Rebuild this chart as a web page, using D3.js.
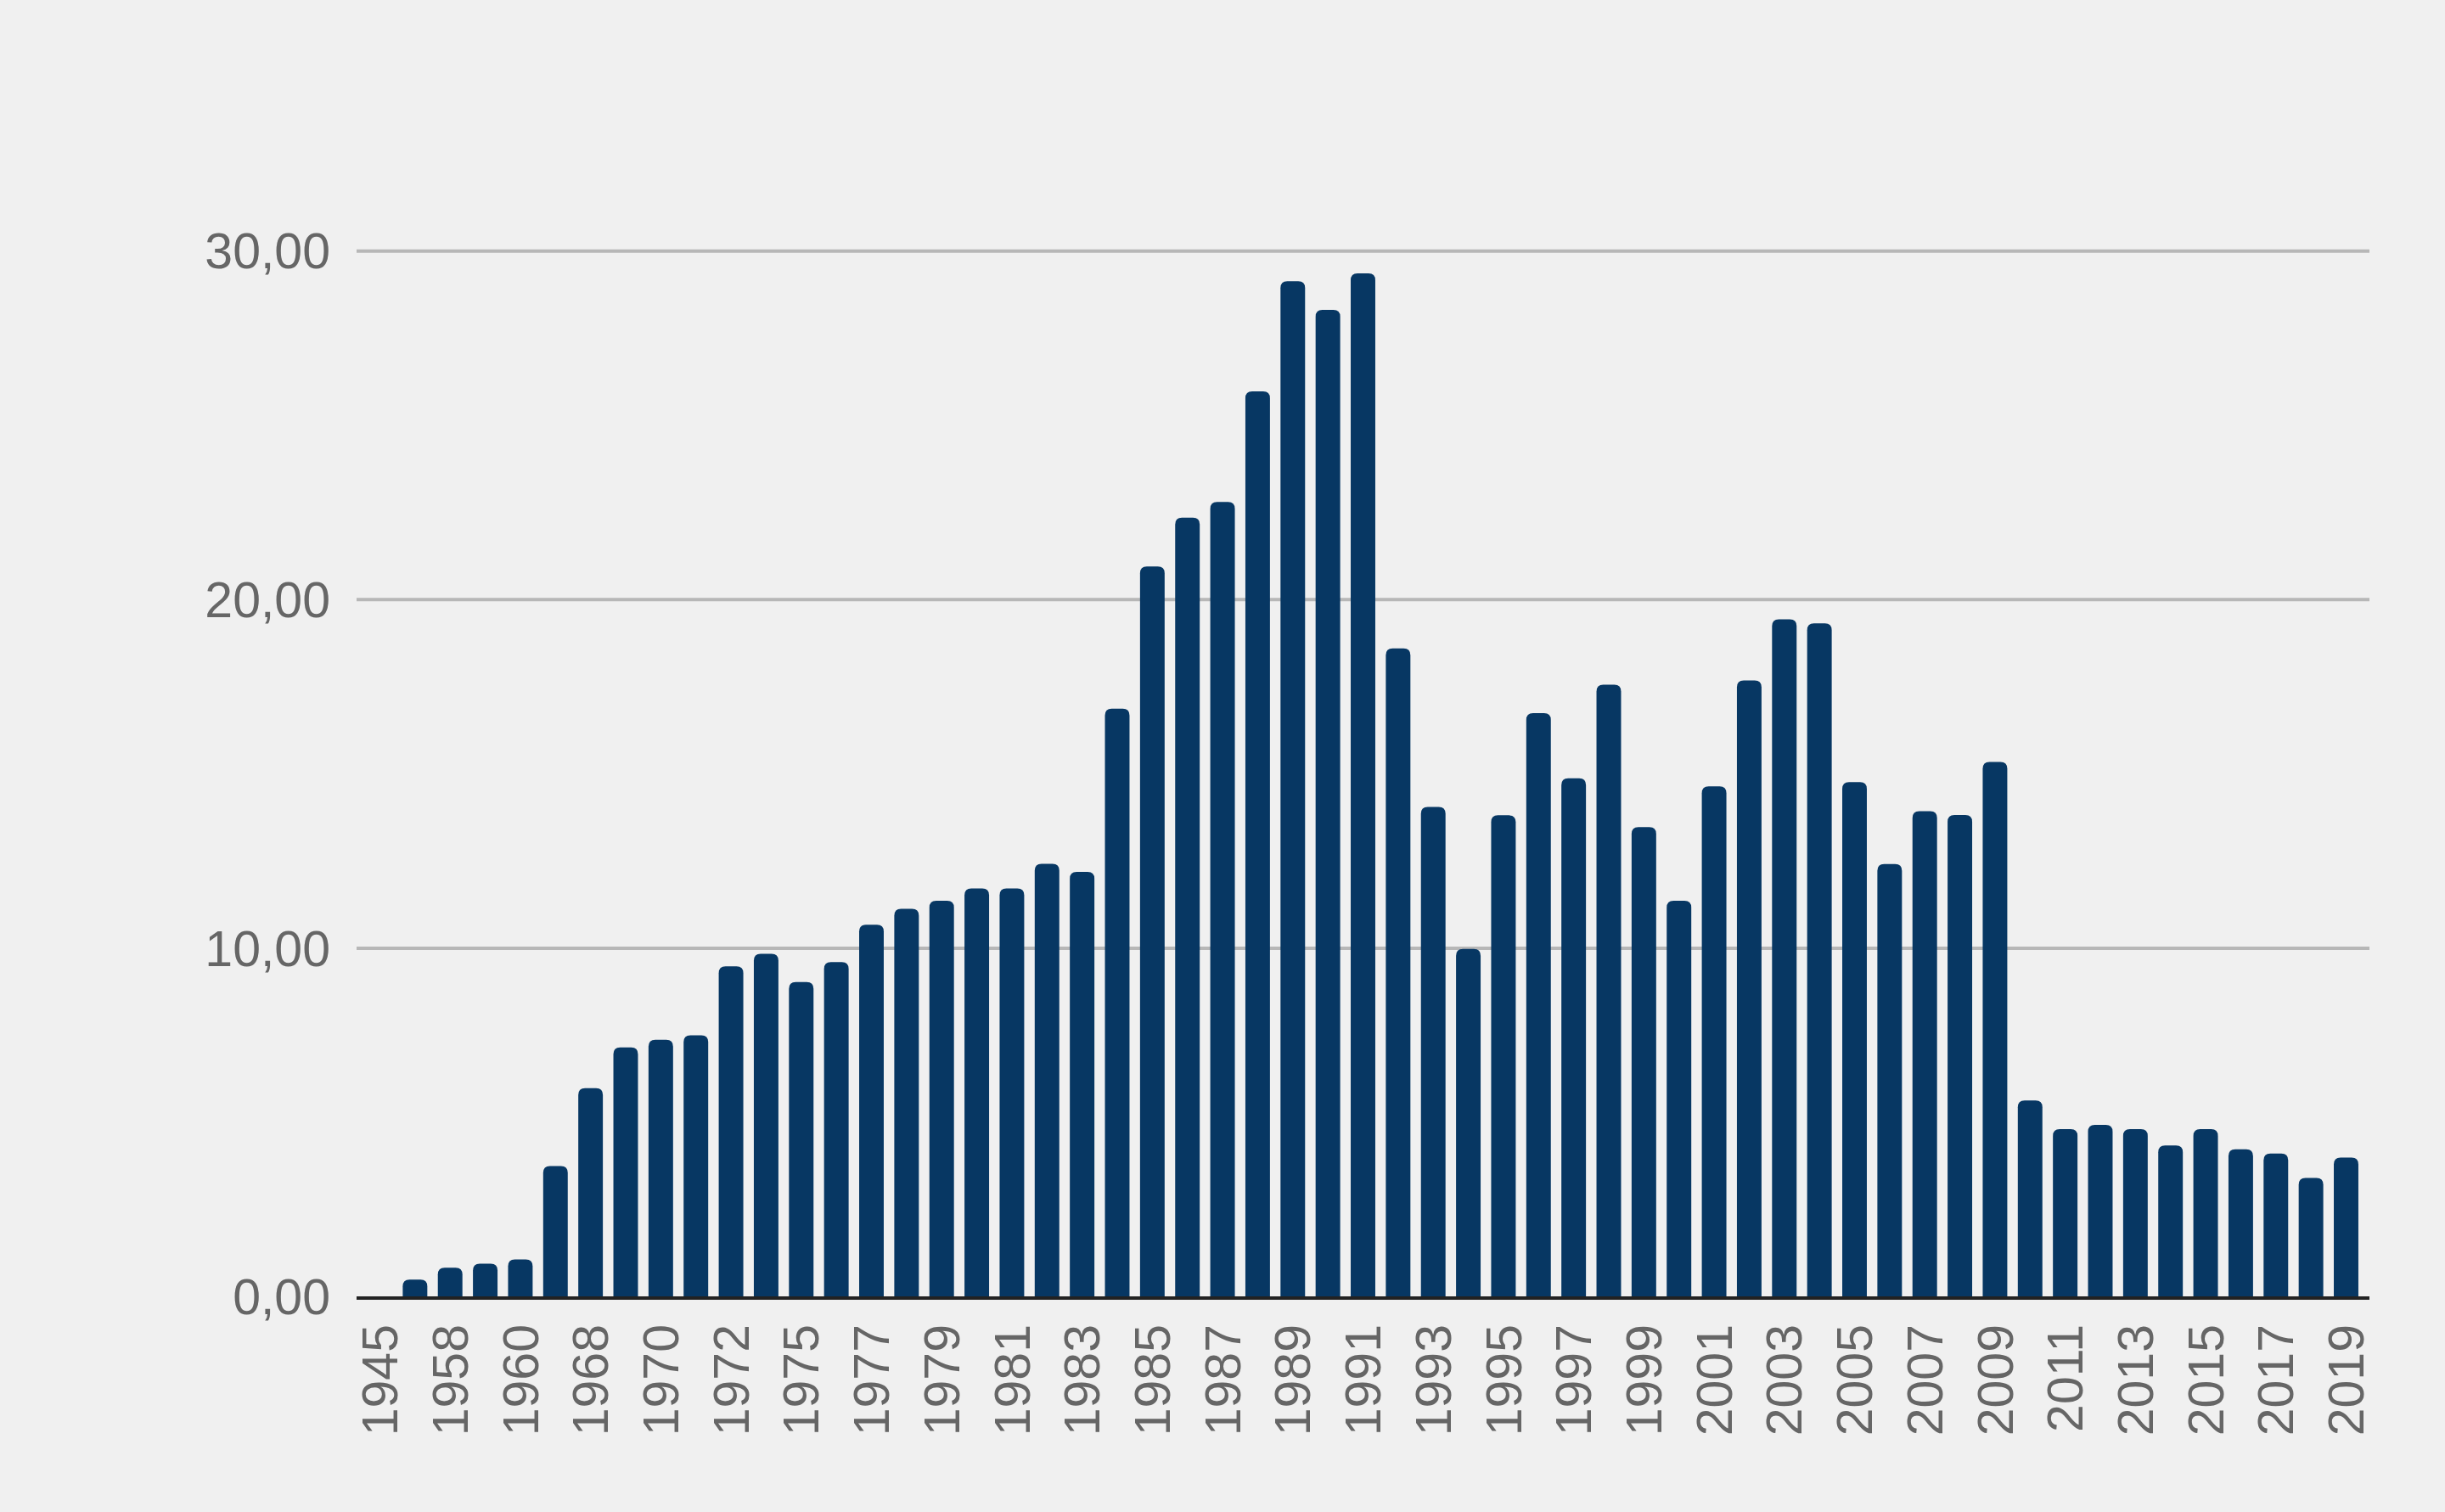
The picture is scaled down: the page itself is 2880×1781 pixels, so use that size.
<!DOCTYPE html>
<html>
<head>
<meta charset="utf-8">
<script src="https://cdn.jsdelivr.net/npm/d3@7"></script>
<style>
  html, body { margin: 0; padding: 0; background: #f0f0f0; }
  svg { display: block; }
</style>
</head>
<body>
<svg id="chart" width="2880" height="1781"></svg>
<script>
// ---- Data ----
const years = [
  "1945","1955","1958","1959","1960","1965","1968","1969","1970","1971","1972","1973",
  "1975","1976","1977","1978","1979","1980","1981","1982","1983","1984","1985","1986",
  "1987","1988","1989","1990","1991","1992","1993","1994","1995","1996","1997","1998",
  "1999","2000","2001","2002","2003","2004","2005","2006","2007","2008","2009","2010",
  "2011","2012","2013","2014","2015","2016","2017","2018","2019"
];
const values = [
  0, 0.48, 0.82, 0.94, 1.06, 3.74, 5.97, 7.14, 7.36, 7.49, 9.47, 9.83,
  9.02, 9.59, 10.66, 11.12, 11.35, 11.70, 11.70, 12.41, 12.18, 16.86, 20.94, 22.34,
  22.79, 25.96, 29.12, 28.30, 29.35, 18.59, 14.04, 9.97, 13.80, 16.73, 14.86, 17.55,
  13.46, 11.35, 14.63, 17.67, 19.42, 19.31, 14.75, 12.40, 13.92, 13.81, 15.33, 5.62,
  4.80, 4.92, 4.80, 4.33, 4.80, 4.22, 4.10, 3.40, 3.98
];
const yTicks = [0, 10, 20, 30];

// ---- Layout ----
const svg = d3.select("#chart");
const plotLeft = 420, plotRight = 2791, zeroY = 1527, topY = 295.2;

const x = d3.scaleBand()
  .domain(years)
  .range([plotLeft, plotRight])
  .paddingInner(0.3)
  .paddingOuter(0.315);

const y = d3.scaleLinear()
  .domain([0, 30])
  .range([zeroY, topY]);

const fmt = v => d3.format(".2f")(v).replace(".", ",");
const fontFamily = "'Liberation Sans', Arial, sans-serif";

// Gridlines + y labels via axis
const yAxis = d3.axisLeft(y)
  .tickValues(yTicks)
  .tickSize(-(plotRight - plotLeft))
  .tickPadding(31)
  .tickFormat(fmt);

const gy = svg.append("g")
  .attr("transform", `translate(${plotLeft},0)`)
  .call(yAxis);
gy.select(".domain").remove();
gy.selectAll(".tick line")
  .attr("stroke", "#b7b7b7")
  .attr("stroke-width", 4)
  .attr("display", d => d === 0 ? "none" : null);
gy.selectAll(".tick text")
  .attr("fill", "#666666")
  .attr("font-family", fontFamily)
  .attr("font-size", 59)
  .attr("dy", "0.35em");

// Bars with rounded top corners
const r = 8;
function barPath(d, i) {
  const x0 = x(years[i]);
  const w = x.bandwidth();
  const yt = y(d);
  const h = zeroY - yt;
  if (h <= 0) return "";
  const rr = Math.min(r, h, w / 2);
  return `M${x0},${zeroY}` +
    `V${yt + rr}` +
    `Q${x0},${yt} ${x0 + rr},${yt}` +
    `H${x0 + w - rr}` +
    `Q${x0 + w},${yt} ${x0 + w},${yt + rr}` +
    `V${zeroY}Z`;
}
svg.append("g")
  .selectAll("path")
  .data(values)
  .join("path")
  .attr("d", (d, i) => barPath(d, i))
  .attr("fill", "#073763");

// X axis (baseline + rotated labels)
const xAxis = d3.axisBottom(x)
  .tickSize(0)
  .tickValues(years.filter((d, i) => i % 2 === 0));

const gx = svg.append("g")
  .attr("transform", `translate(0,${zeroY + 2})`)
  .call(xAxis);
gx.select(".domain")
  .attr("stroke", "#222222")
  .attr("stroke-width", 4)
  .attr("d", `M${plotLeft},0H${plotRight}`);
gx.selectAll(".tick text")
  .attr("fill", "#666666")
  .attr("font-family", fontFamily)
  .attr("font-size", 59)
  .attr("text-anchor", "end")
  .attr("transform", "translate(0,31) rotate(-90)")
  .attr("x", 0)
  .attr("y", 0)
  .attr("dy", "0.35em");
</script>
</body>
</html>
